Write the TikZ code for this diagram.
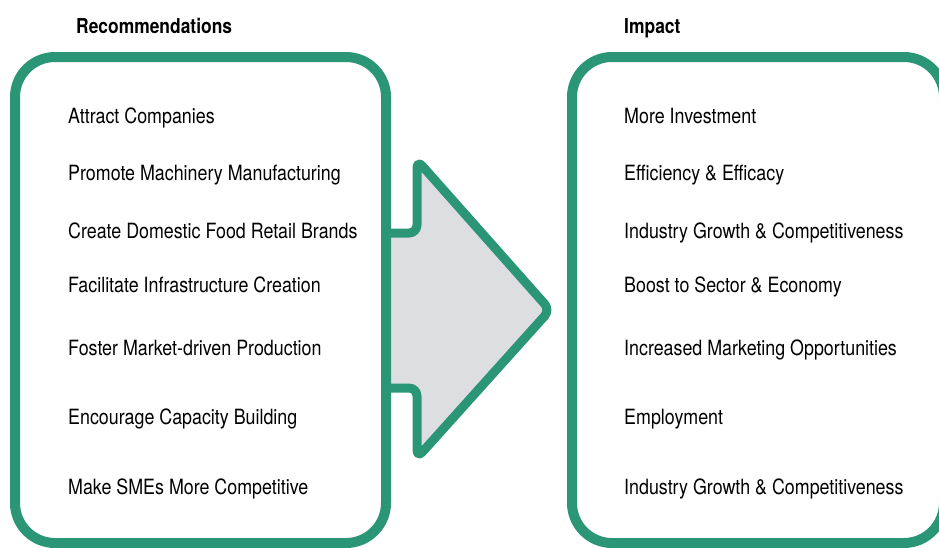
\documentclass[tikz,border=0pt]{standalone}
\usepackage{fontspec}
\setmainfont{TeX Gyre Heros}[FakeStretch=0.85]
\definecolor{panelgreen}{RGB}{42,150,118}
\definecolor{arrowgray}{RGB}{221,222,224}
\tikzset{
  panel/.style={draw=panelgreen,line width=10pt,rounded corners=40pt},
  bigarrow/.style={draw=panelgreen,fill=arrowgray,line width=9pt,rounded corners=8pt,line join=round},
  head/.style={anchor=base west,inner sep=0pt,font=\fontsize{20.5}{24}\selectfont\bfseries},
  item/.style={anchor=base west,inner sep=0pt,font=\fontsize{21}{25}\selectfont}
}
\begin{document}
\begin{tikzpicture}[x=1pt,y=-1pt]
\useasboundingbox (0,0) rectangle (939,547);
\begin{scope}
\clip (0,0) rectangle (939,547);
% arrow between the panels
\draw[bigarrow] (384,233)--(417,233)--(417,160)--(550,310)--(417,458)--(417,388)--(384,388);
% panels
\draw[panel] (15,57) rectangle (386,543);
\draw[panel] (572,57) rectangle (944,543);
\end{scope}
\node[head] (rechead) at (76,33) {Recommendations};
\node[head] (imphead) at (624,33) {Impact};
\foreach \y/\t [count=\i] in {123/Attract Companies,180/Promote Machinery Manufacturing,238/Create Domestic Food Retail Brands,292/Facilitate Infrastructure Creation,355/Foster Market-driven Production,424/Encourage Capacity Building,494/Make SMEs More Competitive}
  \node[item] (rec\i) at (68,\y) {\t};
\foreach \y/\t [count=\i] in {123/More Investment,180/Efficiency \& Efficacy,238/Industry Growth \& Competitiveness,292/Boost to Sector \& Economy,355/Increased Marketing Opportunities,424/Employment,494/Industry Growth \& Competitiveness}
  \node[item] (imp\i) at (624,\y) {\t};
\end{tikzpicture}
\end{document}
